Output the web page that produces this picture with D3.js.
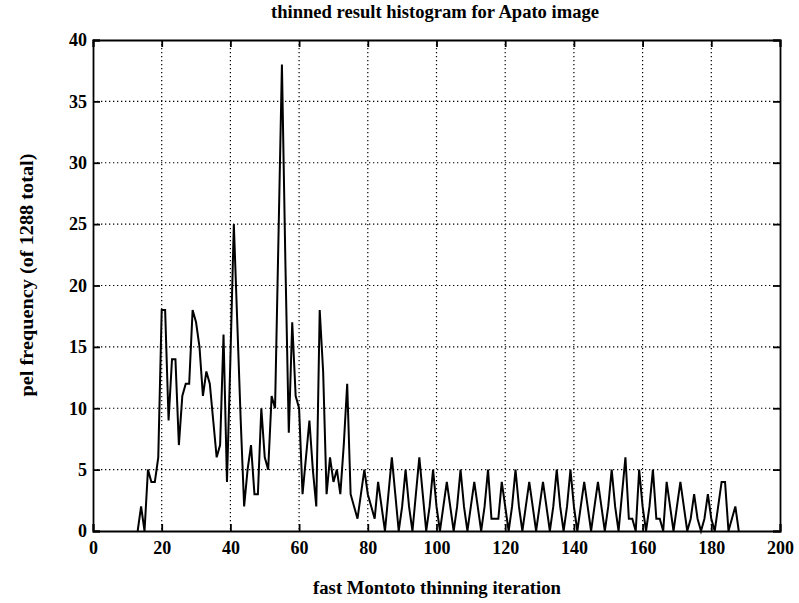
<!DOCTYPE html>
<html>
<head>
<meta charset="utf-8">
<script src="https://cdn.jsdelivr.net/npm/d3@7"></script>
<style>
  body { margin: 0; background: #fff; }
  text { font-family: "Liberation Serif", "DejaVu Serif", serif; fill: #000; }
</style>
</head>
<body>
<script>
// iteration numbers (x) and pel counts (y)
const iterations = d3.range(13, 189);
const counts = [
  0, 2, 0, 5, 4, 4, 6, 18, 18, 9,          // 13-22
  14, 14, 7, 11, 12, 12, 18, 17, 15, 11,   // 23-32
  13, 12, 9, 6, 7, 16, 4, 14, 25, 17,      // 33-42
  9, 2, 5, 7, 3, 3, 10, 6, 5, 11,          // 43-52
  10, 24, 38, 22, 8, 17, 11, 10, 3, 6,     // 53-62
  9, 5, 2, 18, 13, 3, 6, 4, 5, 3,          // 63-72
  7, 12, 3, 2, 1, 3, 5, 3, 2, 1,           // 73-82
  4, 2, 0, 3, 6, 3, 0, 2, 5, 2,            // 83-92
  0, 3, 6, 3, 0, 2, 5, 2, 0, 2,            // 93-102
  4, 2, 0, 2, 5, 2, 0, 2, 4, 2,            // 103-112
  0, 2, 5, 1, 1, 1, 4, 2, 0, 2,            // 113-122
  5, 2, 0, 2, 4, 2, 0, 2, 4, 2,            // 123-132
  0, 2, 5, 2, 0, 2, 5, 2, 0, 2,            // 133-142
  4, 2, 0, 2, 4, 2, 0, 2, 5, 2,            // 143-152
  0, 3, 6, 1, 1, 0, 5, 2, 0, 2,            // 153-162
  5, 1, 1, 0, 4, 2, 0, 2, 4, 2,            // 163-172
  0, 1, 3, 1, 0, 1, 3, 1, 0, 2,            // 173-182
  4, 4, 0, 1, 2, 0                         // 183-188
];
const xTicks = d3.range(0, 201, 20);
const yTicks = d3.range(0, 41, 5);

const W = 799, H = 603;
const margin = {top: 40, right: 19, bottom: 72, left: 93};
const iw = W - margin.left - margin.right;
const ih = H - margin.top - margin.bottom;

const svg = d3.select("body").append("svg")
  .attr("width", W).attr("height", H);

const g = svg.append("g")
  .attr("transform", "translate(" + margin.left + "," + margin.top + ")");

const x = d3.scaleLinear().domain([0, 200]).range([0, iw]);
const y = d3.scaleLinear().domain([0, 40]).range([ih, 0]);

// dotted grid
g.append("g").selectAll("line").data(xTicks.slice(1, -1)).enter().append("line")
  .attr("x1", d => x(d)).attr("x2", d => x(d))
  .attr("y1", 0).attr("y2", ih)
  .attr("stroke", "#000").attr("stroke-width", 1.2).attr("stroke-dasharray", "1.3,2.7");
g.append("g").selectAll("line").data(yTicks.slice(1, -1)).enter().append("line")
  .attr("x1", 0).attr("x2", iw)
  .attr("y1", d => y(d)).attr("y2", d => y(d))
  .attr("stroke", "#000").attr("stroke-width", 1.2).attr("stroke-dasharray", "1.3,2.7");

// axes, ticks pointing inward
const tickLen = 7;
g.append("g").attr("transform", "translate(0," + ih + ")")
  .call(d3.axisBottom(x).tickValues(xTicks).tickSize(-tickLen).tickPadding(10));
g.append("g")
  .call(d3.axisLeft(y).tickValues(yTicks).tickSize(-tickLen).tickPadding(6));
g.append("g")
  .call(d3.axisTop(x).tickValues(xTicks).tickSize(-tickLen).tickFormat(""));
g.append("g").attr("transform", "translate(" + iw + ",0)")
  .call(d3.axisRight(y).tickValues(yTicks).tickSize(-tickLen).tickFormat(""));

g.selectAll(".domain").attr("stroke", "#000").attr("stroke-width", 1.8);
g.selectAll(".tick line").attr("stroke", "#000").attr("stroke-width", 1.8);
g.selectAll(".tick text")
  .style("font-family", "'Liberation Serif', serif")
  .style("font-size", "18px")
  .style("font-weight", "bold")
  .attr("fill", "#000");

// the histogram curve
const line = d3.line()
  .x((d, i) => x(iterations[i]))
  .y(d => y(d));
g.append("path")
  .datum(counts)
  .attr("fill", "none")
  .attr("stroke", "#000")
  .attr("stroke-width", 2)
  .attr("d", line);

// labels
svg.append("text")
  .attr("x", 435).attr("y", 18)
  .attr("text-anchor", "middle")
  .attr("textLength", 328).attr("lengthAdjust", "spacingAndGlyphs")
  .style("font-size", "18px").style("font-weight", "bold")
  .text("thinned result histogram for Apato image");

svg.append("text")
  .attr("x", 437).attr("y", 594)
  .attr("text-anchor", "middle")
  .attr("textLength", 248).attr("lengthAdjust", "spacingAndGlyphs")
  .style("font-size", "18px").style("font-weight", "bold")
  .text("fast Montoto thinning iteration");

svg.append("text")
  .attr("transform", "translate(33,275) rotate(-90)")
  .attr("text-anchor", "middle")
  .attr("textLength", 243).attr("lengthAdjust", "spacingAndGlyphs")
  .style("font-size", "18px").style("font-weight", "bold")
  .text("pel frequency (of 1288 total)");
</script>
</body>
</html>
